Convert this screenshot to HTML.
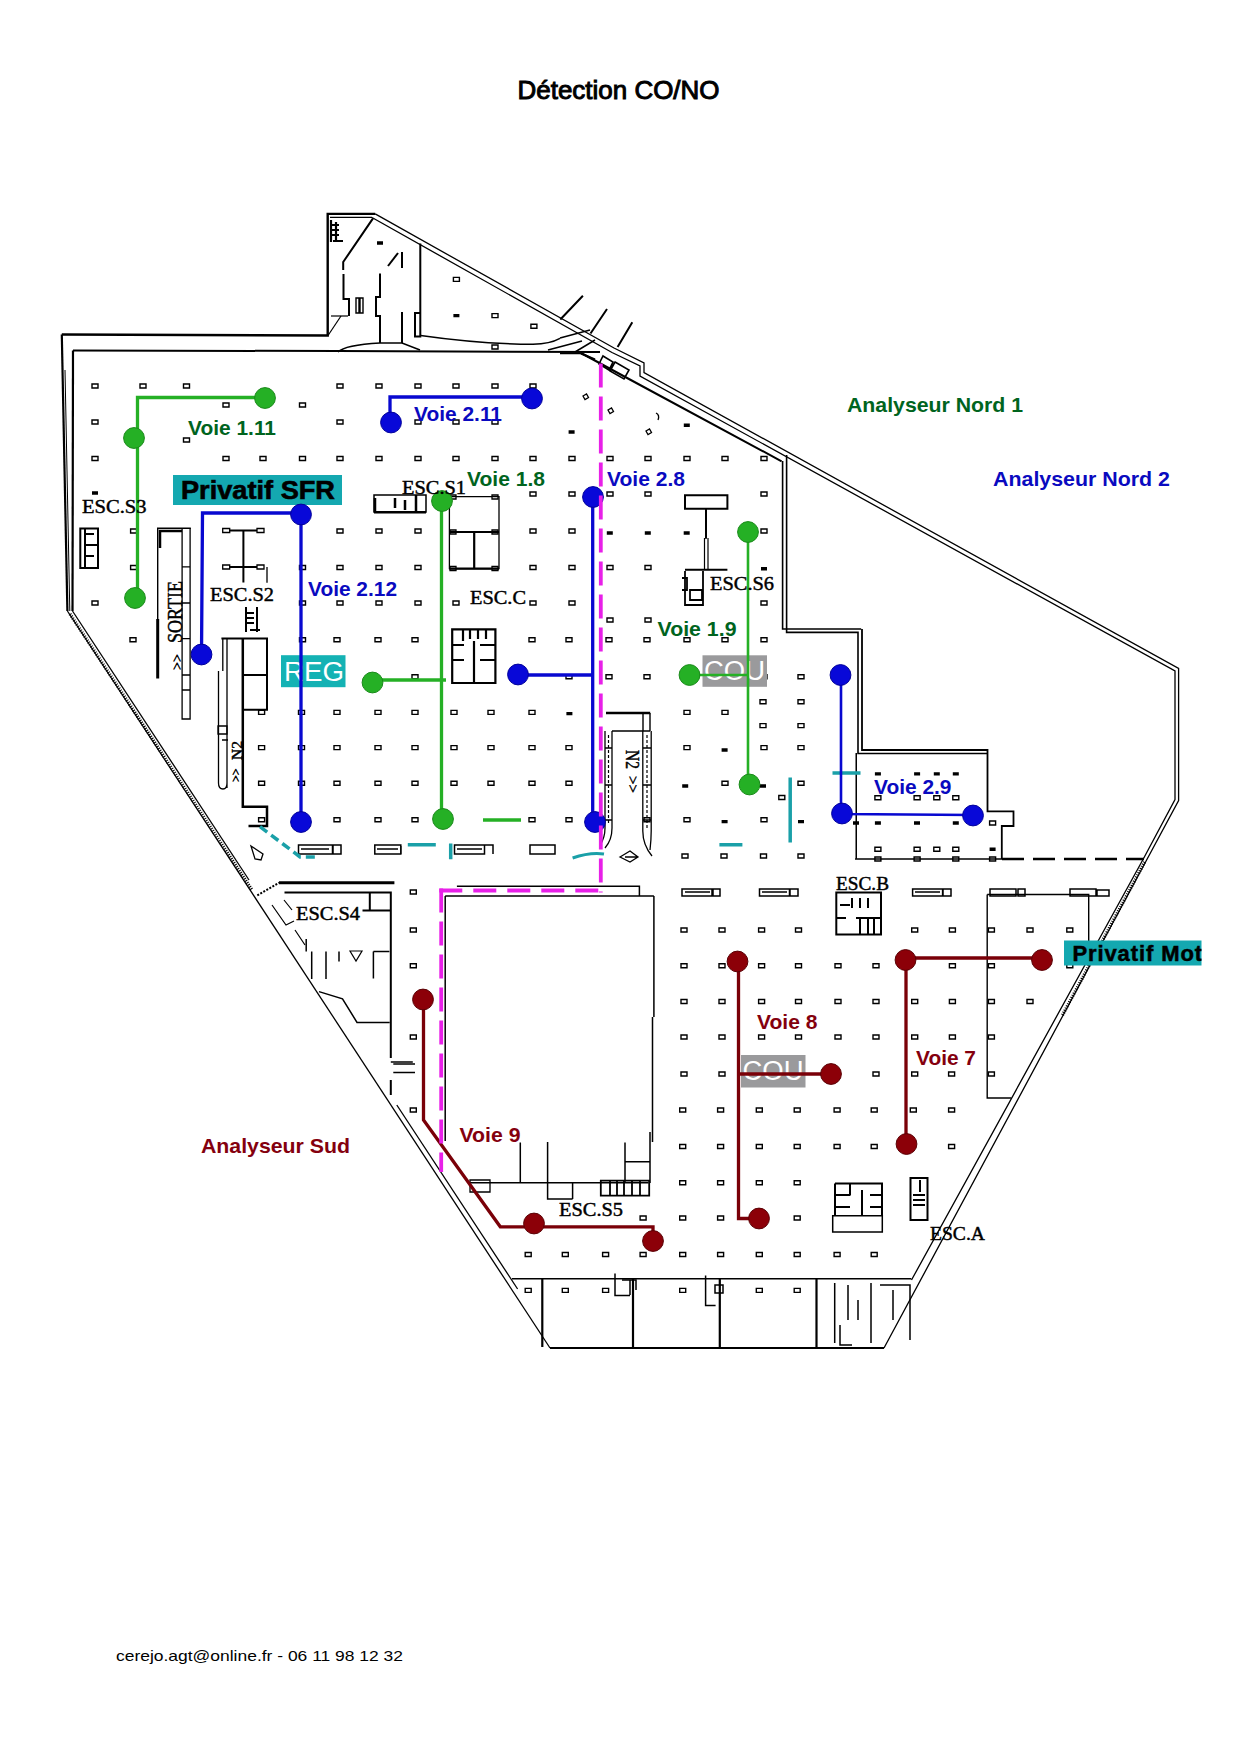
<!DOCTYPE html>
<html><head><meta charset="utf-8">
<style>
html,body{margin:0;padding:0;background:#fff;}
body{width:1240px;height:1754px;overflow:hidden;position:relative;}
svg{position:absolute;left:0;top:0;}
svg{font-family:"Liberation Sans",sans-serif;}
</style></head><body>
<svg width="1240" height="1754" viewBox="0 0 1240 1754">
<text x="517.5" y="98.5" font-size="26" fill="#000" stroke="#000" stroke-width="1.0" textLength="202" lengthAdjust="spacingAndGlyphs">Détection CO/NO</text>
<text x="116" y="1660.5" font-size="15" fill="#000" textLength="287" lengthAdjust="spacingAndGlyphs">cerejo.agt@online.fr - 06 11 98 12 32</text>

<g fill="none" stroke="#000" stroke-width="2">
 <!-- outer top-left horizontal and TL building -->
 <polyline stroke-width="2.4" points="61.8,334.5 327.7,335.5 327.7,213.9 375.2,213.9"/>
 <polyline stroke-width="1.3" points="330,217.3 372,217.3"/>
 <!-- NE long diagonal double -->
 <polyline stroke-width="1.3" points="375.2,213.9 614,348 644,363 644,372.5 1178.6,668.4 1178.6,800.5 1146.5,860.3 884,1348"/>
 <polyline stroke-width="1.3" points="372,217.5 612,352.5 640,366 640,376 1175,671 1175,799.5 1143,859.5 911.5,1280"/>
 <!-- bottom -->
 <polyline stroke-width="2.2" points="884,1348 550,1348"/>
 <polyline stroke-width="3.2" stroke-dasharray="1,1.4" points="1144.7,862 1062,1016"/>
 <polyline stroke-width="3.2" stroke-dasharray="1,1.4" points="70,614 252,890"/>
 <!-- SW diagonal double + left vertical -->
 <polyline stroke-width="1.3" points="550,1348 67.4,611"/>
 <polyline stroke-width="2.2" points="67.4,611 61.8,334.5"/>
 <polyline stroke-width="1" points="69.8,611 65,370"/>
 <polyline stroke-width="1.3" points="249,880 72.5,611"/>
 <polyline stroke-width="1.3" points="396.8,1105 517.6,1289"/>
 <polyline stroke-width="2.2" points="72.5,611 73,350.6"/>
 <!-- inner top line -->
 <polyline points="73,350.6 338,351 600,352"/>
 <!-- inner diagonal to NE wall -->
 <polyline points="581,353 630.8,380 781.6,461.3"/>
 <polyline stroke-width="1.6" points="782.6,461 782.6,629 861.2,629"/>
 <polyline stroke-width="1.6" points="786.6,455 786.6,632.4 858,632.4 858,753.5 987.5,753.5"/>
 <polyline stroke-width="1.8" points="862,629 862,750 987.5,750 987.5,811.3 1013.5,811.3 1013.5,826 1001.8,826 1001.8,859"/>
 <polyline stroke-width="1.2" points="856.3,753 856.3,859"/>
 <polyline stroke-width="1.6" points="855,859 1002,859"/>
 <polyline stroke-width="2.6" stroke-dasharray="22,9" points="1002,859 1144,859"/>
</g>

<g fill="none" stroke="#000" stroke-width="1.6">
 <!-- TL building internals -->
 <polyline stroke-width="2" points="373,218.4 343.2,262 343.2,270"/>
 <polyline stroke-width="2" points="343.5,274 343.5,299 349,299 349,316"/>
 <polyline stroke-width="1.2" points="341,316 328,335.5"/>
 <polyline stroke-width="1.2" points="331,316 348,316"/>
 <path stroke-width="2.2" d="M331,220v22M336,222v20M331,225h8M331,230h8M331,235h8M333,241h10"/>
 <polyline stroke-width="2" points="380,273.5 380,297 376,297 376,316 380,316 380,343"/>
 <polyline stroke-width="2" points="388,266 398,253"/>
 <polyline stroke-width="2" points="402,252 402,268"/>
 <polyline stroke-width="2" points="402,312 402,343"/>
 <polyline stroke-width="2" points="420.3,243.5 420.3,336.4 415,336.4 415,313 420,313"/>
 <path stroke-width="1.4" d="M356,298h4v15h-4z M359,298h4v15h-4z"/>
 <path stroke-width="1.5" d="M420.6,335.5 Q480,344 533,344.2 Q550,344 560,338.4"/>
 <path stroke-width="1.5" d="M338,352 Q345,345 380,343 L402,343 L420,350"/>
 <path stroke-width="1.5" d="M560,338 L590,330 M575,352 L595,340 M548,350 L582,341"/>
 <path stroke-width="2" d="M590.5,333.5 L607,309 M617.6,347 L632.3,322.3 M560.3,319.5 L582.9,295.8"/>
 <path stroke-width="2" d="M581,353.5 L595,359.5 M560,353.3 L581.5,353.3"/>
 <path stroke-width="1.6" d="M603,356 l10,6 -4,8 -10,-6z M615,362 l14,8 -5,9 -14,-8z"/>
 <path stroke-width="1.3" d="M583,396 l3.5,-2 2,3.5 -3.5,2z M608,410 l3.5,-2 2,3.5 -3.5,2z M646,431 l3.5,-2 2,3.5 -3.5,2z M656,413 q4,2 2,7"/>
 <!-- SORTIE -->
 <polyline stroke-width="3" points="157.7,619 157.7,678.5"/>
 <polyline stroke-width="1.4" points="157.7,619 157.7,528.3 190.8,528.3"/>
 <polyline stroke-width="2.5" points="160,548 160,531 182,531"/>
 <polyline stroke-width="1.3" points="182.1,528 182.1,719 190.1,719 190.1,528"/>
 <path stroke-width="1.3" d="M182,566.8h8M182,603h8M182,638.6h8M182,675h8M182,690h8"/>
 <!-- ESC.S2 T -->
 <path stroke-width="2" d="M229,530.5h28M243.4,530.5v52M229,567h28"/>
 <path stroke-width="1.3" d="M222.7,528.5h7v4h-7z M257,528.5h7v4h-7z M222.7,565h7v4h-7z M257,565h7v4h-7z M267,567v15.7"/>
 <path stroke-width="2" d="M246,607v25M257,607v25M246,613h8M246,618h8M246,623h8M250,630h10"/>
 <!-- left ramp -->
 <polyline stroke-width="2" points="221.4,638.5 267,638.5 267,709.8 242.8,709.8"/>
 <path stroke-width="2" d="M242.8,675h24"/>
 <polyline stroke-width="2.5" points="242.8,638.5 242.8,806.7 267,806.7 267,826 248.5,826 Q238.5,822 238.5,811 L238.5,725.5 L240,725.5 L240,638.5"/>
 <path stroke-width="1.3" d="M222.8,638v33 M227,638v150 M218.5,671v112 Q218.5,789 223,789 Q227,789 227,783"/>
 <path stroke-width="1.3" d="M218,726h9v8h-9z M222,740h6"/>
 <path stroke-width="1.3" d="M251,846 l12,8 l-2,6 l-6,-1z"/>
 <!-- ESC.S3 icon -->
 <path stroke-width="2" d="M80.3,528.4h17.7v39.6h-17.7z M84,534h10M84,545h14M84,556h10 M85,528v40"/>
 <!-- ESC.S1 -->
 <path stroke-width="1.5" d="M374,495h52v17h-52z"/>
 <path stroke-width="2.5" d="M374,512.2h52M375,498v14M395,498v10M405,500v10M416,495v17"/>
 <!-- ESC.C box -->
 <path stroke-width="1.3" d="M449.4,496.7h49.6v72h-49.6z"/>
 <path stroke-width="2.2" d="M449.4,532h49.6M474.2,532v36.7M449.4,568.7h49.6"/>
 <path stroke-width="1.3" d="M450,530h6v4h-6zM492,530h6v4h-6zM450,566.5h6v4h-6zM492,566.5h6v4h-6zM450,495h6v4h-6zM492,495h6v4h-6z"/>
 <!-- ESC.C stairs -->
 <path stroke-width="2.2" d="M452.2,629.3h43.2v53.7h-43.2z M463,629v12 M470,629v10 M478,629v10 M486,629v10 M452,645h12 M452,660h12 M480,645h15 M480,660h15 M474,641v42"/>
 <!-- ESC.S6 -->
 <path stroke-width="2" d="M685,495.2h42.4v13.5h-42.4z M706,508.7v30 M685,569.7h42.4"/>
 <path stroke-width="1.2" d="M704.5,538v31.7 M708,538v31.7"/>
 <path stroke-width="1.8" d="M685,571v34h18v-34 M682,578h5v12h-5 M690,590h12v10h-12z"/>
 <!-- N2 right ramp -->
 <path stroke-width="2.5" d="M606,713h44.2"/>
 <path stroke-width="1.4" d="M643,713v18 M650,713v18 M612,731h38"/>
 <path stroke-width="1.3" d="M605,731v97 Q605,838 600,845 M612,731v97 Q612,840 605,848 M642.8,731v100 Q642.8,845 652,856 M651.2,731v100 Q651.2,840 650,850"/>
 <path stroke-width="1.2" stroke-dasharray="3,2" d="M608.5,735v90 M647,735v95"/>
 <path stroke-width="1.3" d="M605,748h7M605,785h7M605,820h7M643,748h8M643,785h8M643,820h8"/>
 <path stroke-width="1.3" d="M620,857 l10,-6 l8,6 l-8,5z M625,857h12"/>
 <!-- NE subzone -->
 <path stroke-width="1.2" d="M856.3,753v105"/>
 <!-- south zone: ESC.S4 -->
 <polyline stroke-width="3" points="279,882.7 394.4,882.7"/>
 <path stroke-width="2" stroke-dasharray="2,1.5" d="M257.3,895.4 L279,882.7"/>
 <polyline stroke-width="2" points="284.5,892.5 390.8,892.5 390.8,1058"/>
 <path stroke-width="2" d="M390.8,1080v15 M369.8,892.5v18.1h21 M362.5,910.6h28.3"/>
 <path stroke-width="1.5" d="M306.2,939v12.6 M311.7,951.6v27.3 M326,951.6v27.3 M339,951.6v10 M373.4,951.6h16 M373.4,951.6v27 M319,991.6 L342.5,998.8 L357,1022.4 L389.7,1022.4"/>
 <path stroke-width="1.2" d="M284,900 l8,10 M272,905 l14,20 l8,-4 M295,930 l10,15"/>
 <path stroke-width="1.2" d="M350,951h12l-6,10z"/>
 <path stroke-width="1.5" d="M393.3,1064h21.7 M393.3,1072.5h21.7 M390.8,1062h22"/>
 <!-- building B -->
 <path stroke-width="1.5" d="M456.9,886.3h182.5v10 M445.2,896.1h208.7 M445.2,896.1v245 M653.9,896.1v121 M652.5,1017v125"/>
 <path stroke-width="1.5" d="M469.5,1182.8h179.1 M520.3,1142.4v40.4 M547.6,1142v57h25 M572.6,1182.7v16.3 M625,1142.4v40.3 M625,1161.8h25 M650,1132v51"/>
 <path stroke-width="1.3" d="M470,1180h20v12h-20z"/>
 <path stroke-width="1.8" d="M600.8,1180.7h48.4v15h-48.4z M610,1180v15 M617,1180v15 M624,1180v15 M632,1180v15 M640,1180v15"/>
 <!-- shops -->
 <path stroke-width="1.6" d="M512,1278.7h399.3"/>
 <path stroke-width="2.2" d="M542.3,1279v68 M633,1279v68 M719.8,1279v68 M816.5,1279v68"/>
 <path stroke-width="1.5" d="M615,1273.5v22h15 M622,1280h14v10 M630,1280v15 M705.6,1275.5v30h10 M715,1285h8v8h-8z M834.7,1283v60 M848,1285v35 M858,1300v20 M871,1283v60 M880,1285h30v55 M893,1290v30 M840,1325v20h12"/>
 <!-- ESC.B -->
 <path stroke-width="2" d="M836.3,892.4h44.7v42h-44.7z M840,905h10M852,898v10M860,898v10M868,898v10 M836,918h10 M856,918h25 M860,918v16 M868,918v16 M874,918v16"/>
 <!-- Privatif Moto frame -->
 <path stroke-width="1.4" d="M987.2,894.5v203.5h24 M987.2,894.5h101.5v52.5"/>
 <!-- ESC.A -->
 <path stroke-width="1.5" d="M832.7,1215.8h49.6v16.2h-49.6z"/>
 <path stroke-width="2" d="M835,1183.5h47v32 M835,1183.5v32 M850,1183.5v12 M835,1195h15 M835,1207h15 M862,1190v25 M870,1195h12 M870,1207h12"/>
 <path stroke-width="2" d="M910.5,1177.9h17v42h-17z M913,1195h12 M913,1200h12 M913,1205h12 M920,1180v12"/>
</g>
<!-- booths -->
<g fill="none" stroke="#000" stroke-width="1.5">
 <path d="M298.5,845h34v9h-34z M301,849h28 M333,845h8v9h-8z"/>
 <path d="M374.8,845h26v9h-26z M377,849h21 M401,846v8"/>
 <path d="M454.5,845h30v9h-30z M457,849h25 M485,845h8v9"/>
 <path d="M530,845h25v9h-25z"/>
 <path d="M682,889h30v7h-30z M685,892h25 M713,889h7v7h-7z"/>
 <path d="M759.5,889h30v7h-30z M762,892h25 M790,889h8v7h-8z"/>
 <path d="M912.6,889h30v7h-30z M915,892h25 M943,889h8v7h-8z"/>
 <path d="M990,889h26v7h-26z M1018,889h7v7h-7z"/>
 <path d="M1070,889h26v7h-26z M1097,890h12v6h-12z"/>
</g>
<!-- teal lines -->
<g fill="none" stroke="#1aa0a8" stroke-width="3.5">
 <polyline stroke-dasharray="9,5" points="260,826.6 300,856.9 318,856.9"/>
 <path d="M407.8,844.8h28 M450.7,843.5v15.8"/>
 <path stroke-width="3" d="M572.6,858 Q590,852 604,854"/>
 <path d="M790.2,777.6v65 M719.4,844.7h23 M832.5,773h28"/>
</g>
<path fill="none" stroke="#000" stroke-width="1.4" d="M92.0,384.0h6v4h-6zM140.0,384.0h6v4h-6zM183.5,384.0h6v4h-6zM337.0,384.0h6v4h-6zM376.0,384.0h6v4h-6zM415.0,384.0h6v4h-6zM453.0,384.0h6v4h-6zM492.0,384.0h6v4h-6zM530.0,384.0h6v4h-6zM223.0,403.0h6v4h-6zM299.5,403.0h6v4h-6zM92.0,420.0h6v4h-6zM337.0,420.0h6v4h-6zM415.0,420.0h6v4h-6zM453.0,420.0h6v4h-6zM492.0,420.0h6v4h-6zM183.5,438.0h6v4h-6zM92.0,456.5h6v4h-6zM223.0,456.5h6v4h-6zM260.0,456.5h6v4h-6zM299.5,456.5h6v4h-6zM337.0,456.5h6v4h-6zM376.0,456.5h6v4h-6zM415.0,456.5h6v4h-6zM453.0,456.5h6v4h-6zM492.0,456.5h6v4h-6zM530.0,456.5h6v4h-6zM569.0,456.5h6v4h-6zM607.0,456.5h6v4h-6zM645.0,456.5h6v4h-6zM684.0,456.5h6v4h-6zM722.0,456.5h6v4h-6zM761.0,456.5h6v4h-6zM530.0,492.0h6v4h-6zM569.0,492.0h6v4h-6zM607.0,492.0h6v4h-6zM645.0,492.0h6v4h-6zM761.0,492.0h6v4h-6zM130.6,529.0h6v4h-6zM337.0,529.0h6v4h-6zM376.0,529.0h6v4h-6zM415.0,529.0h6v4h-6zM530.0,529.0h6v4h-6zM569.0,529.0h6v4h-6zM761.0,529.0h6v4h-6zM130.6,565.5h6v4h-6zM299.5,565.5h6v4h-6zM337.0,565.5h6v4h-6zM376.0,565.5h6v4h-6zM415.0,565.5h6v4h-6zM530.0,565.5h6v4h-6zM569.0,565.5h6v4h-6zM607.0,565.5h6v4h-6zM645.0,565.5h6v4h-6zM92.0,601.0h6v4h-6zM130.6,601.0h6v4h-6zM299.5,601.0h6v4h-6zM337.0,601.0h6v4h-6zM376.0,601.0h6v4h-6zM415.0,601.0h6v4h-6zM453.0,601.0h6v4h-6zM530.0,601.0h6v4h-6zM569.0,601.0h6v4h-6zM761.0,601.0h6v4h-6zM607.0,618.0h6v4h-6zM645.0,618.0h6v4h-6zM130.0,637.8h6v4h-6zM299.5,637.8h6v4h-6zM334.0,637.8h6v4h-6zM375.0,637.8h6v4h-6zM412.0,637.8h6v4h-6zM529.0,637.8h6v4h-6zM566.0,637.8h6v4h-6zM606.0,637.8h6v4h-6zM644.0,637.8h6v4h-6zM684.0,637.8h6v4h-6zM722.0,637.8h6v4h-6zM761.0,637.8h6v4h-6zM412.0,674.7h6v4h-6zM566.0,674.7h6v4h-6zM606.0,674.7h6v4h-6zM644.0,674.7h6v4h-6zM722.0,674.7h6v4h-6zM761.0,674.7h6v4h-6zM798.0,674.7h6v4h-6zM258.6,710.4h6v4h-6zM298.5,710.4h6v4h-6zM334.0,710.4h6v4h-6zM375.0,710.4h6v4h-6zM412.0,710.4h6v4h-6zM451.0,710.4h6v4h-6zM488.0,710.4h6v4h-6zM529.0,710.4h6v4h-6zM684.0,710.4h6v4h-6zM722.0,710.4h6v4h-6zM760.0,699.7h6v4h-6zM798.0,699.7h6v4h-6zM760.0,723.6h6v4h-6zM798.0,723.6h6v4h-6zM778.8,795.5h6v4h-6zM258.6,745.6h6v4h-6zM298.5,745.6h6v4h-6zM334.0,745.6h6v4h-6zM375.0,745.6h6v4h-6zM412.0,745.6h6v4h-6zM451.0,745.6h6v4h-6zM488.0,745.6h6v4h-6zM529.0,745.6h6v4h-6zM566.0,745.6h6v4h-6zM684.0,745.6h6v4h-6zM761.0,745.6h6v4h-6zM798.0,745.6h6v4h-6zM258.6,781.3h6v4h-6zM298.5,781.3h6v4h-6zM334.0,781.3h6v4h-6zM375.0,781.3h6v4h-6zM412.0,781.3h6v4h-6zM451.0,781.3h6v4h-6zM488.0,781.3h6v4h-6zM529.0,781.3h6v4h-6zM566.0,781.3h6v4h-6zM722.0,781.3h6v4h-6zM798.0,781.3h6v4h-6zM258.6,817.7h6v4h-6zM334.0,817.7h6v4h-6zM375.0,817.7h6v4h-6zM412.0,817.7h6v4h-6zM529.0,817.7h6v4h-6zM566.0,817.7h6v4h-6zM644.0,817.7h6v4h-6zM684.0,817.7h6v4h-6zM761.0,817.7h6v4h-6zM682.0,854.0h6v4h-6zM721.0,854.0h6v4h-6zM760.5,854.0h6v4h-6zM798.0,854.0h6v4h-6zM410.3,890.0h6v4h-6zM410.3,928.0h6v4h-6zM681.0,928.0h6v4h-6zM719.0,928.0h6v4h-6zM758.6,928.0h6v4h-6zM795.5,928.0h6v4h-6zM911.7,928.0h6v4h-6zM949.4,928.0h6v4h-6zM988.4,928.0h6v4h-6zM1027.0,928.0h6v4h-6zM1066.8,928.0h6v4h-6zM410.3,963.8h6v4h-6zM681.0,963.8h6v4h-6zM719.0,963.8h6v4h-6zM758.6,963.8h6v4h-6zM795.5,963.8h6v4h-6zM835.0,963.8h6v4h-6zM873.0,963.8h6v4h-6zM949.4,963.8h6v4h-6zM988.4,963.8h6v4h-6zM1066.8,963.8h6v4h-6zM681.0,999.5h6v4h-6zM719.0,999.5h6v4h-6zM758.6,999.5h6v4h-6zM795.5,999.5h6v4h-6zM835.0,999.5h6v4h-6zM873.0,999.5h6v4h-6zM911.7,999.5h6v4h-6zM949.4,999.5h6v4h-6zM988.4,999.5h6v4h-6zM1027.0,999.5h6v4h-6zM410.3,1035.0h6v4h-6zM681.0,1035.0h6v4h-6zM719.0,1035.0h6v4h-6zM758.6,1035.0h6v4h-6zM795.5,1035.0h6v4h-6zM835.0,1035.0h6v4h-6zM873.0,1035.0h6v4h-6zM911.7,1035.0h6v4h-6zM949.4,1035.0h6v4h-6zM988.4,1035.0h6v4h-6zM681.0,1072.0h6v4h-6zM719.0,1072.0h6v4h-6zM873.0,1072.0h6v4h-6zM911.7,1072.0h6v4h-6zM948.6,1072.0h6v4h-6zM988.4,1072.0h6v4h-6zM410.3,1108.0h6v4h-6zM679.7,1108.0h6v4h-6zM717.6,1108.0h6v4h-6zM756.3,1108.0h6v4h-6zM794.2,1108.0h6v4h-6zM834.1,1108.0h6v4h-6zM871.2,1108.0h6v4h-6zM910.3,1108.0h6v4h-6zM948.6,1108.0h6v4h-6zM679.7,1144.5h6v4h-6zM717.6,1144.5h6v4h-6zM756.3,1144.5h6v4h-6zM794.2,1144.5h6v4h-6zM834.1,1144.5h6v4h-6zM871.2,1144.5h6v4h-6zM948.6,1144.5h6v4h-6zM679.7,1180.7h6v4h-6zM717.6,1180.7h6v4h-6zM756.3,1180.7h6v4h-6zM794.2,1180.7h6v4h-6zM640.1,1216.0h6v4h-6zM679.7,1216.0h6v4h-6zM717.6,1216.0h6v4h-6zM794.2,1216.0h6v4h-6zM525.2,1252.5h6v4h-6zM562.3,1252.5h6v4h-6zM602.6,1252.5h6v4h-6zM640.1,1252.5h6v4h-6zM679.7,1252.5h6v4h-6zM717.6,1252.5h6v4h-6zM756.3,1252.5h6v4h-6zM794.2,1252.5h6v4h-6zM834.1,1252.5h6v4h-6zM871.2,1252.5h6v4h-6zM525.2,1288.4h6v4h-6zM562.3,1288.4h6v4h-6zM602.6,1288.4h6v4h-6zM679.7,1288.4h6v4h-6zM756.3,1288.4h6v4h-6zM794.2,1288.4h6v4h-6zM453.4,277.4h6v4h-6zM492.0,313.6h6v4h-6zM530.9,324.2h6v4h-6zM492.0,345.0h6v4h-6zM874.9,795.7h6v4h-6zM914.1,795.7h6v4h-6zM933.8,795.7h6v4h-6zM952.8,795.7h6v4h-6zM874.9,847.2h6v4h-6zM914.1,847.2h6v4h-6zM933.8,847.2h6v4h-6zM952.8,847.2h6v4h-6zM874.9,857.0h6v4h-6zM914.1,857.0h6v4h-6zM952.8,857.0h6v4h-6zM989.6,857.0h6v4h-6zM989.6,821.0h6v4h-6z"/><path fill="#000" d="M92.0,491.3h6v3.4h-6zM453.4,313.9h6v3.4h-6zM377.0,241.3h6v3.4h-6zM874.9,772.2h6v3.4h-6zM914.1,772.2h6v3.4h-6zM933.8,772.2h6v3.4h-6zM952.8,772.2h6v3.4h-6zM853.0,821.3h6v3.4h-6zM874.9,821.3h6v3.4h-6zM952.8,821.3h6v3.4h-6zM989.6,847.5h6v3.4h-6zM606.8,531.3h6v3.4h-6zM644.8,531.3h6v3.4h-6zM683.7,531.3h6v3.4h-6zM761.0,567.0h6v3.4h-6zM683.8,423.5h6v3.4h-6zM568.6,430.3h6v3.4h-6zM566.4,711.9h6v3.4h-6zM682.2,784.3h6v3.4h-6zM760.0,784.3h6v3.4h-6zM721.6,748.3h6v3.4h-6zM721.6,819.9h6v3.4h-6zM798.0,819.9h6v3.4h-6zM914.0,821.3h6v3.4h-6z"/><rect x="173" y="475" width="169" height="30" fill="#14a8b0"/>
<text x="181" y="499" font-size="25" font-weight="bold" fill="#000" stroke="#000" stroke-width="0.6" textLength="154" lengthAdjust="spacingAndGlyphs">Privatif SFR</text>
<rect x="1064" y="940.5" width="137.5" height="25" fill="#14a8b0"/>
<svg x="1064" y="930" width="137.5" height="40"><text x="8.4" y="30.5" font-size="22" font-weight="bold" fill="#000" stroke="#000" stroke-width="0.5" letter-spacing="0.9">Privatif Moto</text></svg>
<rect x="281" y="655.2" width="64.5" height="32" fill="#14b2b4"/>
<text x="284" y="680.6" font-size="27" fill="#fff" textLength="60" lengthAdjust="spacingAndGlyphs">REG</text>
<rect x="702.5" y="655.3" width="64.5" height="31.5" fill="#9a9a9c"/>
<text x="704" y="680" font-size="27" fill="#fff" textLength="61" lengthAdjust="spacingAndGlyphs">COU</text>
<rect x="741" y="1055" width="64.5" height="32.5" fill="#9a9a9c"/>
<text x="742.5" y="1080" font-size="27" fill="#fff" textLength="61" lengthAdjust="spacingAndGlyphs">COU</text>

<g fill="none" stroke-width="3.3">
  <polyline stroke="#25b025" points="265,397.5 137.5,397.5 137.5,598"/>
  <polyline stroke="#0808d0" points="532,397 390,397 390,422"/>
  <polyline stroke="#0808d0" points="201.5,655 202.5,513 301,513 301,822"/>
  <polyline stroke="#25b025" points="441.5,501 441.5,819"/>
  <polyline stroke="#25b025" points="373,680 446,680"/>
  <polyline stroke="#25b025" points="483,820 521,820"/>
  <polyline stroke="#0808d0" points="592.7,497 592.7,822"/>
  <polyline stroke="#0808d0" points="518,675 593,675"/>
  <polyline stroke="#25b025" stroke-width="2.6" points="748,532 748,785"/>
  <polyline stroke="#25b025" stroke-width="2.6" points="689,675 748,675"/>
  <polyline stroke="#0808d0" stroke-width="2.6" points="841,675 841,814 973,815"/>
  <polyline stroke="#7a0008" points="1042,958 906,958 906,1144"/>
  <polyline stroke="#7a0008" points="738.5,962 738.5,1218.5 759,1218.5"/>
  <polyline stroke="#7a0008" points="738,1074 831,1074"/>
  <polyline stroke="#7a0008" points="423.5,999 423.5,1120 500.3,1226.8 653,1226.8 653,1241"/>
</g>
<g><circle cx="265" cy="398" r="10.4" fill="#25b025" stroke="#1a8a1a" stroke-width="1"/><circle cx="134" cy="438" r="10.4" fill="#25b025" stroke="#1a8a1a" stroke-width="1"/><circle cx="135" cy="598" r="10.4" fill="#25b025" stroke="#1a8a1a" stroke-width="1"/><circle cx="532" cy="398.5" r="10.4" fill="#0808d8" stroke="#00009a" stroke-width="1"/><circle cx="391" cy="422.5" r="10.4" fill="#0808d8" stroke="#00009a" stroke-width="1"/><circle cx="301" cy="514.5" r="10.4" fill="#0808d8" stroke="#00009a" stroke-width="1"/><circle cx="201.5" cy="654.5" r="10.4" fill="#0808d8" stroke="#00009a" stroke-width="1"/><circle cx="301" cy="822" r="10.4" fill="#0808d8" stroke="#00009a" stroke-width="1"/><circle cx="442" cy="501" r="10.4" fill="#25b025" stroke="#1a8a1a" stroke-width="1"/><circle cx="372.5" cy="682.5" r="10.4" fill="#25b025" stroke="#1a8a1a" stroke-width="1"/><circle cx="443" cy="819" r="10.4" fill="#25b025" stroke="#1a8a1a" stroke-width="1"/><circle cx="593" cy="497" r="10.4" fill="#0808d8" stroke="#00009a" stroke-width="1"/><circle cx="518" cy="674.5" r="10.4" fill="#0808d8" stroke="#00009a" stroke-width="1"/><circle cx="595" cy="822" r="10.4" fill="#0808d8" stroke="#00009a" stroke-width="1"/><circle cx="748" cy="532" r="10.4" fill="#25b025" stroke="#1a8a1a" stroke-width="1"/><circle cx="689.5" cy="675" r="10.4" fill="#25b025" stroke="#1a8a1a" stroke-width="1"/><circle cx="749.5" cy="784.5" r="10.4" fill="#25b025" stroke="#1a8a1a" stroke-width="1"/><circle cx="840.5" cy="675" r="10.4" fill="#0808d8" stroke="#00009a" stroke-width="1"/><circle cx="842" cy="813.5" r="10.4" fill="#0808d8" stroke="#00009a" stroke-width="1"/><circle cx="973" cy="815.5" r="10.4" fill="#0808d8" stroke="#00009a" stroke-width="1"/><circle cx="905.5" cy="960" r="10.4" fill="#8c0008" stroke="#5a0004" stroke-width="1"/><circle cx="1042" cy="960" r="10.4" fill="#8c0008" stroke="#5a0004" stroke-width="1"/><circle cx="906.5" cy="1144" r="10.4" fill="#8c0008" stroke="#5a0004" stroke-width="1"/><circle cx="737.5" cy="961.5" r="10.4" fill="#8c0008" stroke="#5a0004" stroke-width="1"/><circle cx="831" cy="1074" r="10.4" fill="#8c0008" stroke="#5a0004" stroke-width="1"/><circle cx="759" cy="1218.5" r="10.4" fill="#8c0008" stroke="#5a0004" stroke-width="1"/><circle cx="423" cy="999.5" r="10.4" fill="#8c0008" stroke="#5a0004" stroke-width="1"/><circle cx="534" cy="1223.5" r="10.4" fill="#8c0008" stroke="#5a0004" stroke-width="1"/><circle cx="653" cy="1241" r="10.4" fill="#8c0008" stroke="#5a0004" stroke-width="1"/></g>
<g fill="none" stroke="#e820e8" stroke-width="3.8">
<polyline stroke-dasharray="24,9" points="600.8,363.5 600.8,892.4"/>
<polyline stroke-dasharray="23,11" points="439.3,890.5 602.7,890.5"/>
<polyline stroke-dasharray="24,9" points="441.2,888.6 441.2,1172"/>
</g>
<g font-weight="bold" font-size="20.5">
<text x="188" y="435" fill="#00641e" textLength="88" lengthAdjust="spacingAndGlyphs">Voie 1.11</text>
<text x="414" y="421" fill="#0a0ac0" textLength="88" lengthAdjust="spacingAndGlyphs">Voie 2.11</text>
<text x="308" y="595.5" fill="#0a0ac0" textLength="89" lengthAdjust="spacingAndGlyphs">Voie 2.12</text>
<text x="467" y="485.5" fill="#00641e" textLength="78" lengthAdjust="spacingAndGlyphs">Voie 1.8</text>
<text x="607" y="485.5" fill="#0a0ac0" textLength="78" lengthAdjust="spacingAndGlyphs">Voie 2.8</text>
<text x="657.5" y="635.5" fill="#00641e" textLength="79" lengthAdjust="spacingAndGlyphs">Voie 1.9</text>
<text x="874" y="794" fill="#0a0ac0" textLength="77.5" lengthAdjust="spacingAndGlyphs">Voie 2.9</text>
<text x="757" y="1029" fill="#84000e" textLength="60.5" lengthAdjust="spacingAndGlyphs">Voie 8</text>
<text x="916" y="1065" fill="#84000e" textLength="60" lengthAdjust="spacingAndGlyphs">Voie 7</text>
<text x="459.5" y="1141.5" fill="#84000e" textLength="61" lengthAdjust="spacingAndGlyphs">Voie 9</text>
<text x="847" y="412" fill="#00641e" textLength="176" lengthAdjust="spacingAndGlyphs">Analyseur Nord 1</text>
<text x="993" y="486" fill="#0a0ac0" textLength="177" lengthAdjust="spacingAndGlyphs">Analyseur Nord 2</text>
<text x="201" y="1153" fill="#84000e" textLength="149" lengthAdjust="spacingAndGlyphs">Analyseur Sud</text>
</g>
<g font-family="Liberation Serif" font-size="19.5" fill="#000" stroke="#000" stroke-width="0.45">
<text x="82" y="512.7" textLength="64.5" lengthAdjust="spacingAndGlyphs">ESC.S3</text>
<text x="210" y="601" textLength="64" lengthAdjust="spacingAndGlyphs">ESC.S2</text>
<text x="402" y="494" textLength="64" lengthAdjust="spacingAndGlyphs">ESC.S1</text>
<text x="470" y="604" textLength="56" lengthAdjust="spacingAndGlyphs">ESC.C</text>
<text x="710" y="590" textLength="64" lengthAdjust="spacingAndGlyphs">ESC.S6</text>
<text x="296" y="920" textLength="64" lengthAdjust="spacingAndGlyphs">ESC.S4</text>
<text x="559" y="1216" textLength="64" lengthAdjust="spacingAndGlyphs">ESC.S5</text>
<text x="930" y="1240" textLength="55" lengthAdjust="spacingAndGlyphs">ESC.A</text>
<text x="836" y="890" textLength="53" lengthAdjust="spacingAndGlyphs">ESC.B</text>
<text transform="translate(182,643) rotate(-90)" font-size="20" textLength="62" lengthAdjust="spacingAndGlyphs">SORTIE</text>
<text transform="translate(182,670) rotate(-90)" font-size="14" font-weight="normal">&gt;&gt;</text>
<text transform="translate(626,750) rotate(90)" font-size="19" textLength="19" lengthAdjust="spacingAndGlyphs">N2</text>
<text transform="translate(628,776) rotate(90)" font-size="15" font-weight="normal">&gt;&gt;</text>
<text transform="translate(242,760) rotate(-90)" font-size="15" textLength="19" lengthAdjust="spacingAndGlyphs">N2</text>
<text transform="translate(240,782) rotate(-90)" font-size="12" font-weight="normal">&gt;&gt;</text>
</g>
</svg>
</body></html>
